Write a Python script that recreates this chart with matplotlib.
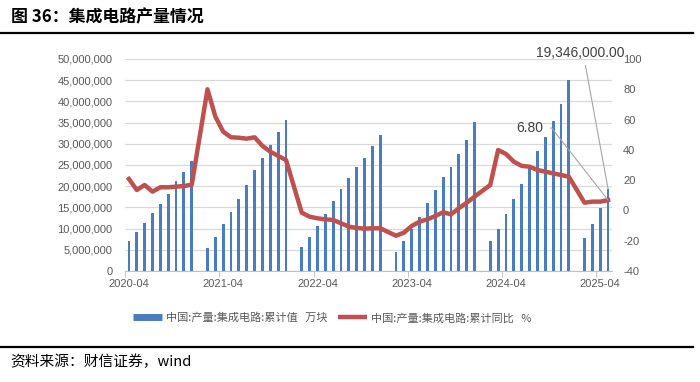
import matplotlib
matplotlib.use("Agg")
import numpy as np
import pandas as pd
import matplotlib.pyplot as plt
from matplotlib.lines import Line2D
from matplotlib.ticker import FuncFormatter

plt.rcParams['font.family'] = ['Liberation Sans', 'Noto Sans CJK SC', 'DejaVu Sans']
plt.rcParams['axes.unicode_minus'] = False
CJK = ['Noto Sans CJK SC', 'DejaVu Sans']

# 月份（1月与2月合并公布，故无1月）
periods = (["2020-%02d" % m for m in range(4, 13)]
           + [f"{y}-{m:02d}" for y in (2021, 2022, 2023, 2024) for m in range(2, 13)]
           + ["2025-02", "2025-03", "2025-04", "2025-05"])

# 集成电路产量:累计值（万块）
output = [7140000, 9200000, 11300000, 13750000, 15800000, 18200000, 21200000, 23300000, 25900000,
          5350000, 8000000, 11100000, 14000000, 17000000, 20300000, 23800000, 26600000, 29800000, 32800000, 35700000,
          5600000, 8000000, 10700000, 13400000, 16600000, 19300000, 21900000, 24500000, 26600000, 29500000, 32100000,
          4500000, 7100000, 9900000, 12800000, 16100000, 19100000, 22100000, 24500000, 27700000, 31000000, 35200000,
          7100000, 9900000, 13400000, 17000000, 20600000, 24200000, 28400000, 31600000, 35300000, 39400000, 45000000,
          7700000, 11100000, 14900000, 19346000]

# 集成电路产量:累计同比（%）
yoy = [20.8, 13.5, 16.8, 12.4, 15.3, 15.3, 15.7, 16.1, 17.0,
       80.0, 62.0, 52.0, 48.3, 48.0, 47.4, 48.3, 42.6, 38.8, 36.0, 33.3,
       -1.5, -4.1, -5.2, -5.9, -6.3, -8.5, -10.7, -11.6, -12.0, -11.8, -11.8,
       -16.7, -14.7, -10.3, -7.4, -5.9, -3.7, -1.2, -2.6, 1.4, 5.1, 9.1,
       16.8, 39.9, 37.3, 32.2, 29.4, 28.9, 26.7, 25.6, 24.5, 23.4, 22.3,
       5.1, 5.8, 5.8, 6.8]

tick_labels = ["2020-04", "2021-04", "2022-04", "2023-04", "2024-04", "2025-04"]
labels = ["中国:产量:集成电路:累计值   万块", "中国:产量:集成电路:累计同比   %"]

BLUE = "#4A7CC0"
RED = "#C0504D"
GRAY = "#595959"


def month_index(strs):
    d = pd.to_datetime(strs)
    return np.asarray((d.year - 2020) * 12 + d.month - 4)


x = month_index(periods)
tick_x = month_index(tick_labels)

fig = plt.figure(figsize=(7, 3.82), dpi=100)
ax = fig.add_axes([125 / 700, 1 - 271 / 382, (612 - 125) / 700, (271 - 59) / 382])

ax.bar(x, output, width=0.36, color=BLUE, zorder=2)
ax.set_xlim(-0.5, 61.5)
ax.set_ylim(0, 50e6)
ax.set_yticks(np.arange(0, 50e6 + 1, 5e6))
ax.yaxis.set_major_formatter(FuncFormatter(lambda v, p: f"{v:,.0f}"))
ax.grid(axis='y', color='#D9D9D9', lw=0.9)
ax.set_axisbelow(True)
for s in ['top', 'left', 'right']:
    ax.spines[s].set_visible(False)
ax.spines['bottom'].set_color('#BFBFBF')
ax.tick_params(axis='y', length=0, pad=9, labelsize=8, labelcolor=GRAY)
ax.set_xticks(tick_x)
ax.set_xticklabels(tick_labels)
ax.set_xticks(tick_x - 0.5, minor=True)
ax.tick_params(axis='x', length=0, pad=6, labelsize=8, labelcolor=GRAY)
ax.tick_params(axis='x', which='minor', length=4, color='#BFBFBF')

ax2 = ax.twinx()
ax2.plot(x, yoy, color=RED, lw=3.2, solid_joinstyle='round', zorder=3)
ax2.set_ylim(-40, 100)
ax2.set_yticks(range(-40, 101, 20))
ax2.tick_params(axis='y', length=0, pad=8, labelsize=8, labelcolor=GRAY)
for s in ax2.spines.values():
    s.set_visible(False)

# 数据标签
ax.annotate(f"{output[-1]:,.2f}", xy=(x[-1], output[-1]), xytext=(580, 329),
            textcoords='figure pixels', ha='center', va='center', fontsize=10, color='#404040',
            arrowprops=dict(arrowstyle='-', color='#A6A6A6', lw=0.8, relpos=(0.55, 0),
                            shrinkA=2, shrinkB=0))
ax2.annotate(f"{yoy[-1]:.2f}", xy=(x[-1], yoy[-1]), xytext=(530, 254),
             textcoords='figure pixels', ha='center', va='center', fontsize=10, color='#404040',
             arrowprops=dict(arrowstyle='-', color='#A6A6A6', lw=0.8, relpos=(1, 0.5),
                             shrinkA=3, shrinkB=0,
                             connectionstyle='angle,angleA=0,angleB=-52,rad=0'))

handles = [Line2D([], [], color=BLUE, lw=5, solid_capstyle='butt'),
           Line2D([], [], color=RED, lw=3.2, solid_capstyle='butt')]
fig.legend(handles, labels, loc='center left', bbox_to_anchor=(133 / 700, 1 - 318 / 382),
           ncol=2, frameon=False, prop=dict(family=CJK, size=8), labelcolor=GRAY,
           handlelength=2.6, handletextpad=0.35, columnspacing=1.0, borderpad=0, borderaxespad=0)

# 标题与来源
fig.text(11 / 700, 1 - 17 / 382, "图 36：集成电路产量情况", fontsize=12.2, fontweight='bold',
         family=CJK, va='center')
fig.add_artist(Line2D([0, 0.99], [1 - 33 / 382] * 2, color='black', lw=1.6))
fig.add_artist(Line2D([0, 0.99], [1 - 347 / 382] * 2, color='black', lw=1.6))
fig.text(10 / 700, 1 - 362 / 382, "资料来源：财信证券，wind", fontsize=10.6, style='italic',
         family=CJK, va='center')

fig.savefig("out.png", dpi=100)
